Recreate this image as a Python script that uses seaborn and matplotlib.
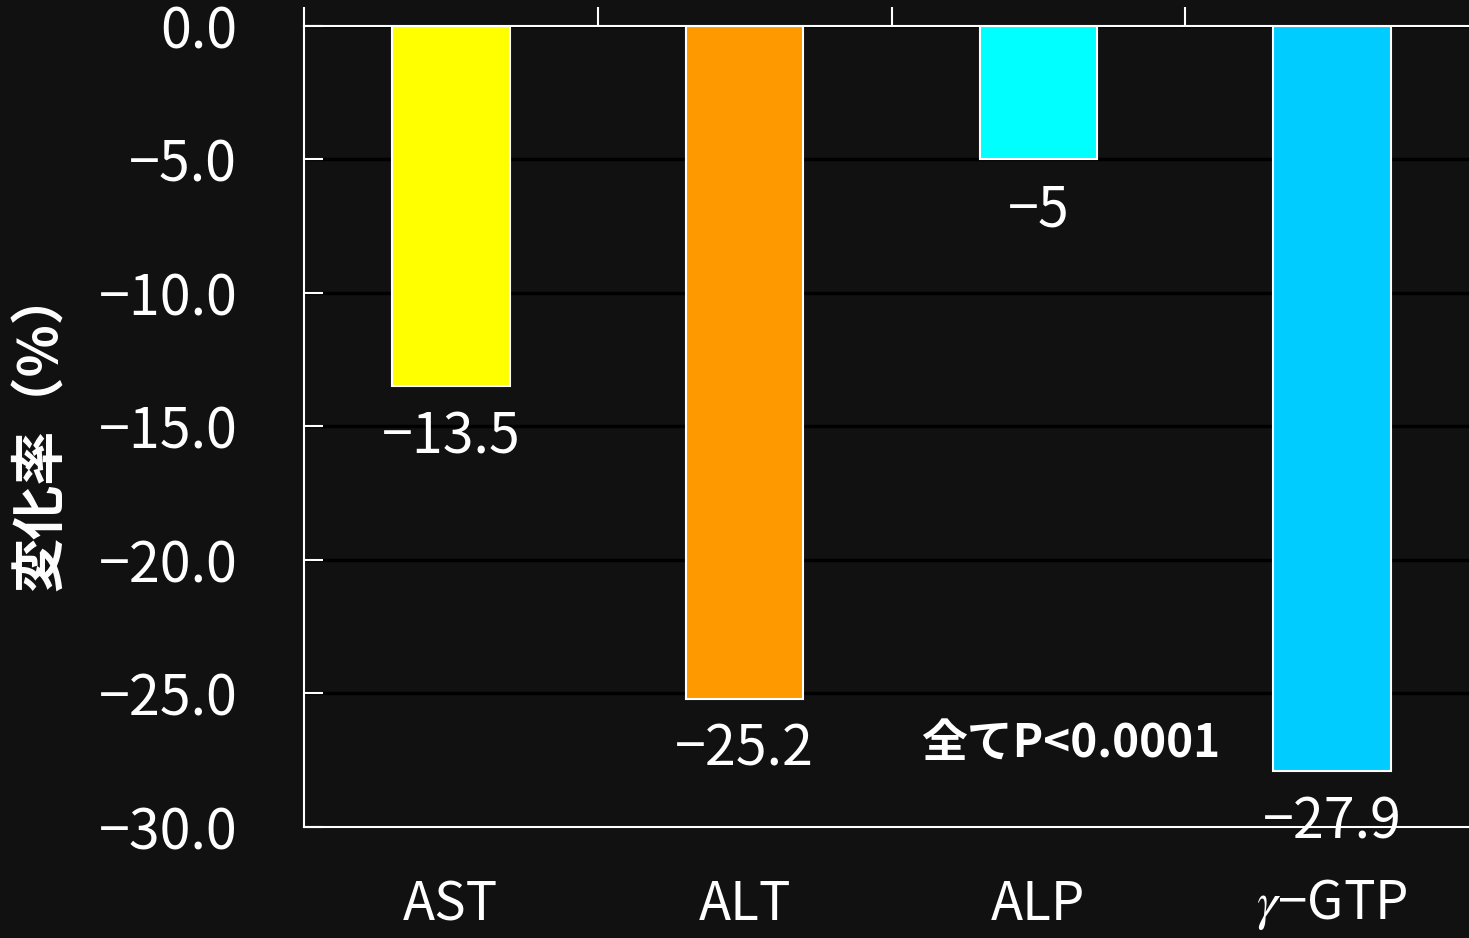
import seaborn as sns
import matplotlib.pyplot as plt
import pandas as pd

# data
items = ['AST', 'ALT', 'ALP', '$\\gamma$−GTP']
change = [-13.5, -25.2, -5, -27.9]
bar_colors = ['#FFFF00', '#FF9900', '#00FFFF', '#00CCFF']
yticks = [0, -5, -10, -15, -20, -25, -30]

df = pd.DataFrame({'item': items, 'change': change})

sns.set_style('dark')
plt.rcParams['font.family'] = ['Noto Sans CJK JP', 'DejaVu Sans']
plt.rcParams['mathtext.fontset'] = 'stix'
bg = '#111111'

fig = plt.figure(figsize=(14.69, 9.38), dpi=100, facecolor=bg)
ax = fig.add_axes([304/1469, 111/938, 1175/1469, 801/938])
ax.set_facecolor(bg)

sns.barplot(data=df, x='item', y='change', hue='item', palette=bar_colors,
            saturation=1, width=0.4, edgecolor='white', linewidth=1.5,
            legend=False, zorder=3, ax=ax)

ax.set_xlim(-0.5, 3.5)
ax.set_ylim(-30, 0)

# grid
ax.set_yticks(yticks)
ax.set_yticklabels([f'{v:.1f}'.replace('-', '−') for v in yticks])
ax.yaxis.grid(True, color='black', linewidth=2.5, zorder=0)
ax.xaxis.grid(False)

ax.tick_params(axis='y', direction='in', length=14, width=1.5, color='white',
               labelcolor='white', labelsize=40, pad=48, left=True)

# category labels at bottom, boundary ticks on top
ax.set_xticks(range(len(items)))
ax.set_xticklabels(items)
ax.tick_params(axis='x', which='major', length=0, labelcolor='white',
               labelsize=38, pad=36)
ax.set_xticks([-0.5, 0.5, 1.5, 2.5], minor=True)
ax.tick_params(axis='x', which='minor', top=True, bottom=False, direction='out',
               length=14, width=1.5, color='white')
ax.set_xlabel('')
ax.set_ylabel('')

for side in ['left', 'top', 'bottom', 'right']:
    ax.spines[side].set_visible(True)
    ax.spines[side].set_color('white')
    ax.spines[side].set_linewidth(1.5)
    ax.spines[side].set_zorder(4)

# value labels under bars
for i, v in enumerate(change):
    ax.annotate(f'{v:g}'.replace('-', '−'), (i, v), xytext=(0, -37),
                textcoords='offset points', ha='center', va='center',
                color='white', fontsize=40, zorder=5, annotation_clip=False)

ax.text(2.11, -26.9, '全てP<0.0001', ha='center', va='center', color='white',
        fontsize=33, fontweight='bold', zorder=5)

ax.text(-0.223, 0.496, '変化率（%）', transform=ax.transAxes, rotation=90,
        ha='center', va='center', color='white', fontsize=39, fontweight='bold')

fig.savefig('out.png', dpi=100, facecolor=bg)
